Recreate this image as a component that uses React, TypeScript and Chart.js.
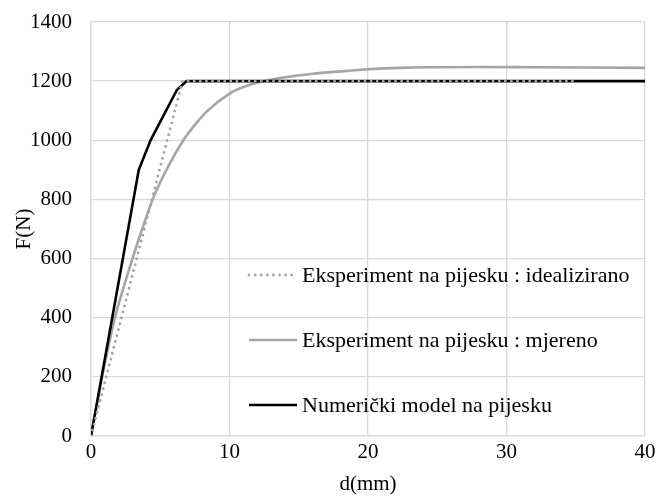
import { useEffect, useRef } from "react";
import { Chart, registerables } from "chart.js";

Chart.register(...registerables);

// ---- data ----
const seriesNames = [
  "Eksperiment na pijesku : idealizirano",
  "Eksperiment na pijesku : mjereno",
  "Numerički model na pijesku",
];

const idealX = [0, 6.6, 34.8];
const idealY = [0, 1200, 1200];

const measX = [0, 0.5, 1, 1.73, 2.4, 3.0, 3.7, 4.45, 5.5, 6.67, 7.5, 8.35, 10, 11, 12.2, 14, 16, 18, 20, 22.3, 25, 28, 32, 36, 40];
const measY = [0, 125, 245, 400, 510, 600, 700, 800, 905, 1000, 1052, 1097, 1158, 1180, 1197, 1213, 1225, 1233, 1240, 1245, 1247, 1248, 1247, 1246, 1245];

const numX = [0, 3.45, 4.3, 6.2, 6.9, 40];
const numY = [0, 900, 1000, 1170, 1200, 1200];

const xTicks = [0, 10, 20, 30, 40];
const yTicks = [0, 200, 400, 600, 800, 1000, 1200, 1400];

const xTitle = "d(mm)";
const yTitle = "F(N)";

// ---- styles ----
const FONT = "'Liberation Serif', 'Times New Roman', serif";
const GRAY = "#a5a5a5";
const GRID = "#d9d9d9";

const pts = (xs: number[], ys: number[]) => xs.map((x, i) => ({ x, y: ys[i] }));

const legendPlugin = {
  id: "customLegend",
  afterDraw(chart: any) {
    const ctx = chart.ctx as CanvasRenderingContext2D;
    const items = [
      { color: GRAY, dash: [0.1, 6], width: 2.8, cap: "round" },
      { color: GRAY, dash: [], width: 2.6, cap: "butt" },
      { color: "#000", dash: [], width: 2.6, cap: "butt" },
    ];
    const ys = [275, 340, 405];
    ctx.save();
    items.forEach((it, i) => {
      ctx.beginPath();
      ctx.setLineDash(it.dash);
      ctx.lineCap = it.cap as CanvasLineCap;
      ctx.strokeStyle = it.color;
      ctx.lineWidth = it.width;
      ctx.moveTo(249, ys[i]);
      ctx.lineTo(297, ys[i]);
      ctx.stroke();
      ctx.setLineDash([]);
      ctx.fillStyle = "#000";
      ctx.font = `22px ${FONT}`;
      ctx.textAlign = "left";
      ctx.textBaseline = "middle";
      ctx.fillText(seriesNames[i], 302, ys[i] + 1);
    });
    ctx.restore();
  },
};

export default function App() {
  const ref = useRef<HTMLCanvasElement | null>(null);

  useEffect(() => {
    document.body.style.margin = "0";
    const canvas = ref.current;
    if (!canvas) return;
    const chart = new Chart(canvas, {
      type: "line",
      data: {
        datasets: [
          {
            label: seriesNames[0],
            data: pts(idealX, idealY),
            borderColor: GRAY,
            borderWidth: 2.8,
            borderDash: [0.1, 6],
            borderCapStyle: "round",
            pointRadius: 0,
            tension: 0,
            order: 0,
          },
          {
            label: seriesNames[1],
            data: pts(measX, measY),
            borderColor: GRAY,
            borderWidth: 2.6,
            pointRadius: 0,
            cubicInterpolationMode: "monotone",
            order: 2,
          },
          {
            label: seriesNames[2],
            data: pts(numX, numY),
            borderColor: "#000",
            borderWidth: 2.6,
            pointRadius: 0,
            tension: 0,
            order: 1,
          },
        ],
      },
      options: {
        animation: false,
        responsive: false,
        devicePixelRatio: 1,
        layout: { padding: { top: 22, right: 14, left: 0, bottom: 0 } },
        plugins: {
          legend: { display: false },
          tooltip: { enabled: false },
        },
        scales: {
          x: {
            type: "linear",
            min: 0,
            max: 40,
            afterFit: (s: any) => {
              s.height = 61;
              s.paddingLeft = 0;
              s.paddingRight = 0;
            },
            afterBuildTicks: (s: any) => {
              s.ticks = xTicks.map((v) => ({ value: v }));
            },
            ticks: {
              color: "#000",
              font: { family: FONT, size: 21 },
              padding: 4,
              maxRotation: 0,
              callback: (v: any) => String(v),
            },
            grid: { color: GRID, lineWidth: 1.3, drawTicks: false },
            border: { color: GRID, width: 1.3 },
            title: {
              display: true,
              text: xTitle,
              color: "#000",
              font: { family: FONT, size: 21 },
              padding: { top: 0, bottom: 0 },
            },
          },
          y: {
            type: "linear",
            min: 0,
            max: 1400,
            afterFit: (s: any) => {
              s.width = 91;
              s.paddingTop = 0;
              s.paddingBottom = 0;
            },
            afterBuildTicks: (s: any) => {
              s.ticks = yTicks.map((v) => ({ value: v }));
            },
            ticks: {
              color: "#000",
              font: { family: FONT, size: 21 },
              padding: 19,
              callback: (v: any) => String(v),
            },
            grid: { color: GRID, lineWidth: 1.3, drawTicks: false },
            border: { color: GRID, width: 1.3 },
            title: {
              display: true,
              text: yTitle,
              color: "#000",
              font: { family: FONT, size: 21 },
              padding: { top: 12, bottom: 0 },
            },
          },
        },
      },
      plugins: [legendPlugin],
    } as any);
    return () => chart.destroy();
  }, []);

  return (
    <div style={{ width: 659, height: 497 }}>
      <canvas ref={ref} width={659} height={497} style={{ width: 659, height: 497, display: "block" }} />
    </div>
  );
}
